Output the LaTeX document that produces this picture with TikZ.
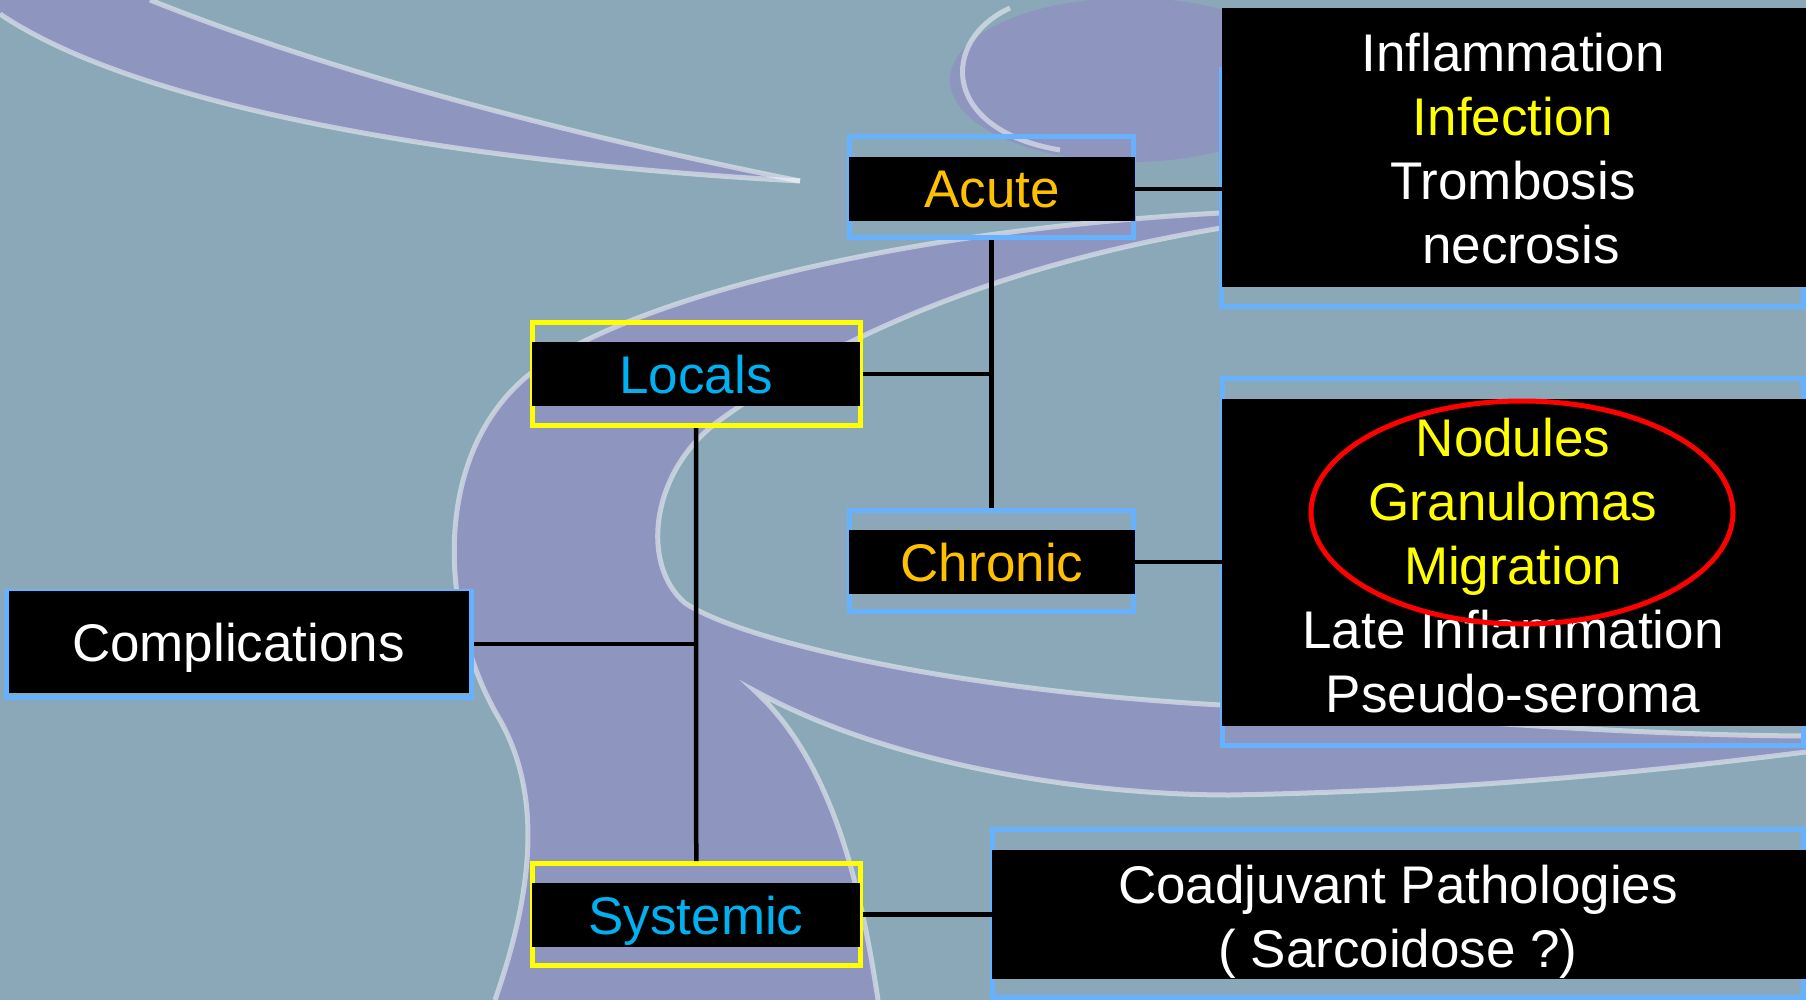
\documentclass[tikz,border=0pt]{standalone}
\usepackage{fontspec}
\setmainfont{Liberation Sans}
\definecolor{bgbase}{RGB}{138,168,184}
\definecolor{lav}{RGB}{142,150,192}
\definecolor{bord}{RGB}{102,178,255}
\definecolor{ylw}{RGB}{255,255,0}
\definecolor{orng}{RGB}{255,192,0}
\definecolor{cyn}{RGB}{0,176,240}
\definecolor{redring}{RGB}{255,0,0}
\newcommand{\bigtxt}{\fontsize{53pt}{64pt}\selectfont}
\tikzset{
  outerB/.style={draw=bord, line width=5pt, inner sep=0pt},
  outerY/.style={draw=ylw, line width=5pt, inner sep=0pt},
  band/.style={fill=black, inner sep=0pt, text height=38pt, text depth=0pt, font=\bigtxt},
  listtxt/.style={anchor=north, inner sep=0pt, align=center, font=\bigtxt, text=white},
  conn/.style={draw=black, line width=4.5pt},
  hilite/.style={draw=white, line width=5pt, opacity=0.5},
}
\begin{document}
\begin{tikzpicture}[x=1pt,y=-1pt]
\useasboundingbox (0,0) rectangle (1806,1000);
% background
\fill[bgbase] (0,0) rectangle (1806,1000);
% top-left tail
\fill[lav] (0,0) -- (150,0) .. controls (300,60) and (520,125) .. (800,181)
  .. controls (500,165) and (150,115) .. (0,14) -- cycle;
\draw[hilite] (150,0) .. controls (300,60) and (520,125) .. (800,181);
\draw[hilite] (800,181) .. controls (500,165) and (150,115) .. (0,14);
% top-right ring
\fill[lav] (1130,80) ellipse [x radius=180, y radius=82];
\draw[hilite] (1010,8) .. controls (940,40) and (940,130) .. (1060,150);
% big band
\fill[lav] (1240,212) .. controls (900,228) and (620,300) .. (525,378)
  .. controls (430,460) and (440,620) .. (500,720)
  .. controls (545,800) and (530,900) .. (495,1000)
  -- (878,1000) .. controls (860,880) and (830,760) .. (755,691)
  .. controls (900,770) and (1100,795) .. (1230,795)
  .. controls (1500,790) and (1700,765) .. (1806,752)
  -- (1806,736) .. controls (1600,735) and (1400,715) .. (1221,705)
  .. controls (950,690) and (740,640) .. (685,603)
  .. controls (640,565) and (650,470) .. (720,420)
  .. controls (830,340) and (1000,262) .. (1240,225) -- cycle;
\draw[hilite] (1240,212) .. controls (900,228) and (620,300) .. (525,378)
  .. controls (430,460) and (440,620) .. (500,720)
  .. controls (545,800) and (530,900) .. (495,1000);
\draw[hilite] (878,1000) .. controls (860,880) and (830,760) .. (755,691)
  .. controls (900,770) and (1100,795) .. (1230,795)
  .. controls (1500,790) and (1700,765) .. (1806,752);
\draw[hilite] (1806,736) .. controls (1600,735) and (1400,715) .. (1221,705)
  .. controls (950,690) and (740,640) .. (685,603)
  .. controls (640,565) and (650,470) .. (720,420)
  .. controls (830,340) and (1000,262) .. (1240,225);

% outer frames
\node[outerB, minimum width=284pt, minimum height=100.5pt] (acuteO) at (991.5,187.25) {};
\node[outerY, minimum width=328pt, minimum height=103.5pt] (localsO) at (696,373.75) {};
\node[outerB, minimum width=284pt, minimum height=101.5pt] (chronicO) at (991.5,560.75) {};
\node[outerY, minimum width=327.5pt, minimum height=102pt] (systemicO) at (696.25,914.5) {};
\node[outerB, minimum width=465pt, minimum height=106pt] (complO) at (238.5,644) {};
\node[outerB, minimum width=582.5pt, minimum height=236.5pt] (acutelistO) at (1512.25,188.25) {};
\node[outerB, minimum width=581.5pt, minimum height=367pt] (chroniclistO) at (1512.75,562) {};
\node[outerB, minimum width=811.5pt, minimum height=168pt] (coadjO) at (1397.75,913) {};

% connectors
\draw[conn] (acuteO.south) -- (chronicO.north);
\draw[conn] (localsO.south) -- (systemicO.north);

% black bands
\node[band, minimum width=286pt, minimum height=64pt, text=orng] (acute) at (992,189) {Acute};
\node[band, minimum width=328pt, minimum height=64pt, text=cyn] (locals) at (696,374) {Locals};
\node[band, minimum width=286pt, minimum height=64pt, text=orng] (chronic) at (992,562) {Chronic};
\node[band, minimum width=328pt, minimum height=64pt, text=cyn] (systemic) at (696,915) {Systemic};
\node[band, minimum width=460pt, minimum height=102pt, text=white] (compl) at (238.5,642) {Complications};
\node[band, minimum width=584pt, minimum height=279pt] (acutelist) at (1514,147.5) {};
\node[band, minimum width=584pt, minimum height=327pt] (chroniclist) at (1514,562.5) {};
\node[band, minimum width=814pt, minimum height=129pt] (coadj) at (1399,914.5) {};

\draw[conn] (acute.east) -- (acute.east -| acutelist.west);
\draw[conn] (chronic.east) -- (chronic.east -| chroniclist.west);
\draw[conn] (localsO.east) -- (localsO.east -| acuteO.south);
\draw[conn] (complO.east) -- (complO.east -| localsO.south);
\draw[conn] (systemicO.east) -- (systemicO.east -| coadj.west);

% list texts
\node[listtxt] (acutelistT) at (1513,33) {Inflammation\\\textcolor{ylw}{Infection}\\Trombosis\\\hspace*{16pt}necrosis};
\node[listtxt] (chroniclistT) at (1513,418) {\textcolor{ylw}{Nodules}\\\textcolor{ylw}{Granulomas}\\\textcolor{ylw}{Migration}\\Late Inflammation\\Pseudo-seroma};
\node[listtxt] (coadjT) at (1398,865) {Coadjuvant Pathologies\\( Sarcoidose ?)};

% red ellipse
\draw[redring, line width=5pt] (1522,512.5) ellipse [x radius=211, y radius=111.5];
\end{tikzpicture}
\end{document}
